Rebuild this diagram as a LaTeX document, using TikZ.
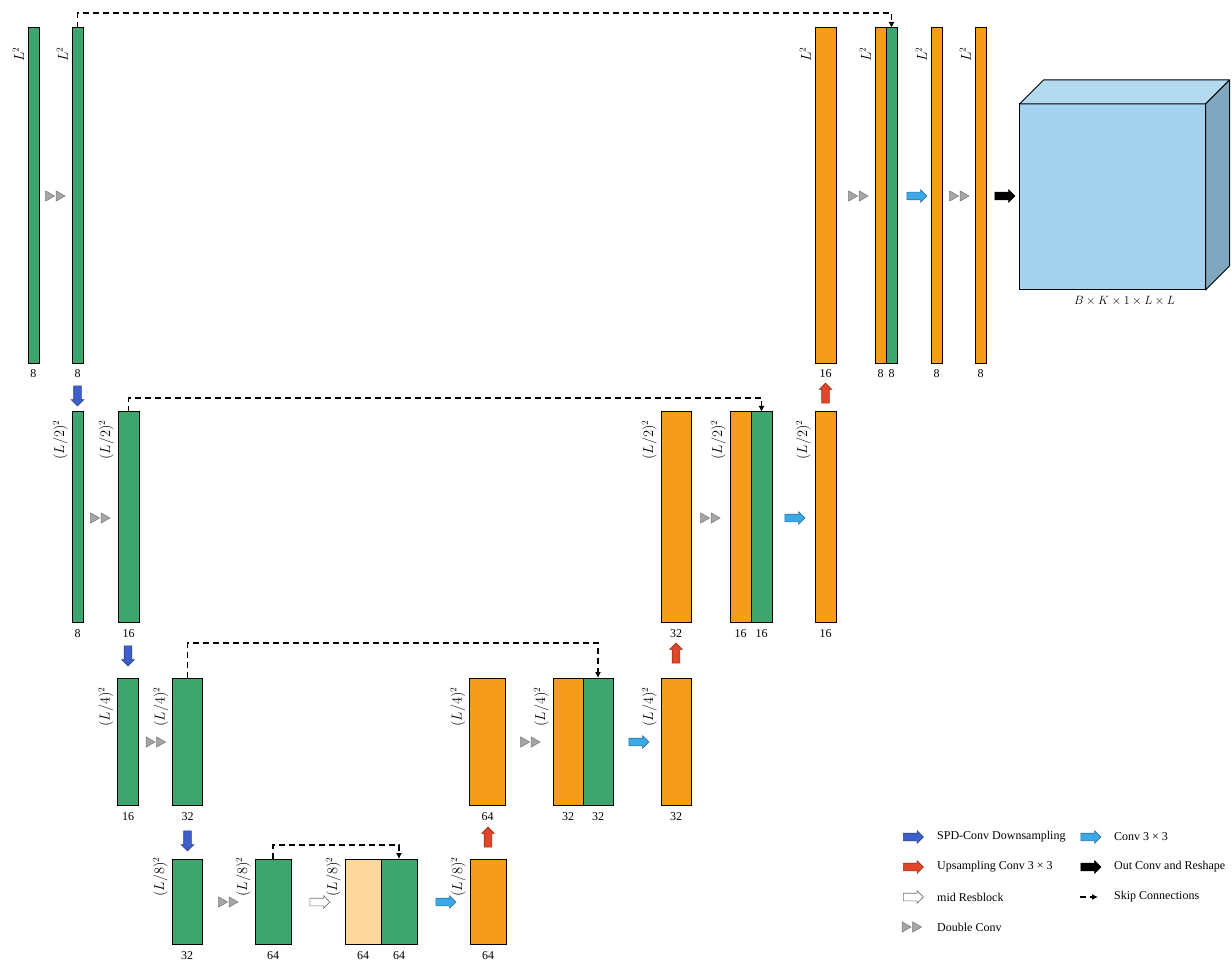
\documentclass[tikz,border=0pt]{standalone}
\usepackage{fontspec}
\setmainfont{Liberation Serif}
\usetikzlibrary{positioning,shapes.arrows,shapes.geometric,arrows.meta}

\definecolor{fgreen}{HTML}{3FA56F}
\definecolor{forange}{HTML}{F79B1C}
\definecolor{flight}{HTML}{FCD89D}
\definecolor{spdblue}{HTML}{3C5FCB}
\definecolor{upred}{HTML}{E1462A}
\definecolor{convblue}{HTML}{3DA8E6}
\definecolor{cubefront}{HTML}{A4D2EF}
\definecolor{cubetop}{HTML}{B4DAF0}
\definecolor{cubeside}{HTML}{7FA8C0}

\def\dconv#1#2#3{%
    \node[tri] (#1-a) at (#2-6.5,#3) {};
    \node[tri] (#1-b) at (#2+4,#3) {};}

\begin{document}
\begin{tikzpicture}[x=1pt,y=-1pt]
    \tikzstyle{fmap}=[draw=black, line width=1pt, inner sep=0pt, outer sep=0pt, minimum width=11pt]
    \tikzstyle{enc map}=[fmap, fill=fgreen]
    \tikzstyle{dec map}=[fmap, fill=forange]
    \tikzstyle{mid map}=[fmap, fill=flight]
    \tikzstyle{lvl1}=[minimum height=336pt]
    \tikzstyle{lvl2}=[minimum height=210pt]
    \tikzstyle{lvl3}=[minimum height=127pt]
    \tikzstyle{lvl4}=[minimum height=85pt]
    \tikzstyle{dim label}=[anchor=south east, rotate=90, inner sep=0pt, font=\fontsize{13.5}{15}\selectfont]
    \tikzstyle{ch label}=[yshift=\numoff, inner sep=0pt, font=\fontsize{12}{14}\selectfont]
    \tikzset{dims/.style={label={[xshift=-4pt, yshift=\dimoff, dim label]north west:#1}}}
    \tikzstyle{blk arrow}=[single arrow, single arrow head extend=2.5pt, minimum height=20pt, inner sep=3.5pt, line width=0.6pt]
    \tikzstyle{spd}=[fill=spdblue, draw=spdblue!70!black]
    \tikzstyle{ups}=[fill=upred, draw=upred!70!black]
    \tikzstyle{conv}=[fill=convblue, draw=convblue!70!black]
    \tikzstyle{outc}=[fill=black, draw=black]
    \tikzstyle{resb}=[fill=white, draw=black!55]
    \tikzstyle{tri}=[regular polygon, regular polygon sides=3, shape border rotate=-90, minimum size=12pt, inner sep=0pt, fill=black!35, draw=black!55, line width=0.5pt]
    \tikzstyle{skip}=[draw=black, line width=1.1pt, dash pattern=on 6pt off 4pt, -{Latex[length=6pt,width=6pt]}]
    \tikzstyle{legend text}=[anchor=west, inner sep=0pt, font=\fontsize{12}{14}\selectfont]

    \useasboundingbox (0,0) rectangle (1232,965);

    % Level 1 maps
    \def\dimoff{-19pt}\def\numoff{-5pt}
    \node[enc map, lvl1, dims={$L^2$}, label={[ch label]below:8}] (E1-1) at (33.5,196) {};
    \node[enc map, lvl1, dims={$L^2$}, label={[ch label]below:8}] (E1-2) at (77.5,196) {};
    \node[dec map, lvl1, minimum width=21pt, dims={$L^2$}, label={[ch label]below:16}] (D1-1) at (825.5,196) {};
    \node[dec map, lvl1, dims={$L^2$}, label={[ch label]below:8}] (D1-2) at (880.5,196) {};
    \node[enc map, lvl1, right=0pt of D1-2, label={[ch label]below:8}] (D1-3) {};
    \node[dec map, lvl1, dims={$L^2$}, label={[ch label]below:8}] (D1-4) at (936.5,196) {};
    \node[dec map, lvl1, dims={$L^2$}, label={[ch label]below:8}] (D1-5) at (980.5,196) {};

    % Level 2 maps
    \def\dimoff{-8pt}\def\numoff{-7pt}
    \node[enc map, lvl2, dims={$(L/2)^2$}, label={[ch label]below:8}] (E2-1) at (77.5,517) {};
    \node[enc map, lvl2, minimum width=21pt, dims={$(L/2)^2$}, label={[ch label]below:16}] (E2-2) at (128.5,517) {};
    \node[dec map, lvl2, minimum width=30pt, dims={$(L/2)^2$}, label={[ch label]below:32}] (D2-1) at (676,517) {};
    \node[dec map, lvl2, minimum width=21pt, dims={$(L/2)^2$}, label={[ch label]below:16}] (D2-2) at (740.5,517) {};
    \node[enc map, lvl2, minimum width=21pt, right=0pt of D2-2, label={[ch label]below:16}] (D2-3) {};
    \node[dec map, lvl2, minimum width=21pt, dims={$(L/2)^2$}, label={[ch label]below:16}] (D2-4) at (825.5,517) {};

    % Level 3 maps
    \def\dimoff{-9pt}
    \node[enc map, lvl3, minimum width=21pt, dims={$(L/4)^2$}, label={[ch label]below:16}] (E3-1) at (128,741.5) {};
    \node[enc map, lvl3, minimum width=30pt, dims={$(L/4)^2$}, label={[ch label]below:32}] (E3-2) at (187.5,741.5) {};
    \node[dec map, lvl3, minimum width=36pt, dims={$(L/4)^2$}, label={[ch label]below:64}] (D3-1) at (487.5,741.5) {};
    \node[dec map, lvl3, minimum width=30pt, dims={$(L/4)^2$}, label={[ch label]below:32}] (D3-2) at (568,741.5) {};
    \node[enc map, lvl3, minimum width=30pt, right=0pt of D3-2, label={[ch label]below:32}] (D3-3) {};
    \node[dec map, lvl3, minimum width=30pt, dims={$(L/4)^2$}, label={[ch label]below:32}] (D3-4) at (676,741.5) {};

    % Level 4 maps
    \def\dimoff{2pt}
    \node[enc map, lvl4, minimum width=30pt, dims={$(L/8)^2$}, label={[ch label]below:32}] (E4-1) at (187,901.5) {};
    \node[enc map, lvl4, minimum width=36pt, dims={$(L/8)^2$}, label={[ch label]below:64}] (E4-2) at (273,901.5) {};
    \node[mid map, lvl4, minimum width=36pt, dims={$(L/8)^2$}, label={[ch label]below:64}] (M-1) at (363,901.5) {};
    \node[enc map, lvl4, minimum width=36pt, right=0pt of M-1, label={[ch label]below:64}] (M-2) {};
    \node[dec map, lvl4, minimum width=36pt, dims={$(L/8)^2$}, label={[ch label]below:64}] (D4-1) at (488,901.5) {};

    % Output cube
    \node[draw, line width=1pt, fill=cubefront, minimum width=186pt, minimum height=186pt, outer sep=0pt] (cube) at (1112.5,197) {};
    \draw[line width=1pt, line join=round, fill=cubetop] (cube.north west) -- ++(24,-24) -- ++(186,0) -- (cube.north east) -- cycle;
    \draw[line width=1pt, line join=round, fill=cubeside] (cube.north east) -- ++(24,-24) -- ++(0,186) -- (cube.south east) -- cycle;
    \node[below=6pt of cube, xshift=12pt, inner sep=0pt, font=\fontsize{12.5}{14}\selectfont] (cube-l) {$B\times K\times 1\times L\times L$};

    % Operations between the maps
    \dconv{dc-1}{55}{196}
    \dconv{dc-2}{858}{196}
    \node[blk arrow, conv] (cv-1) at (915,196) {};
    \dconv{dc-3}{959}{196}
    \node[blk arrow, outc] (out) at (1003,196) {};
    \node[blk arrow, spd, shape border rotate=270] (dn-1) at (77.5,394) {};
    \node[blk arrow, ups, shape border rotate=90] (up-1) at (825.5,395) {};

    \dconv{dc-4}{100}{518}
    \dconv{dc-5}{710}{518}
    \node[blk arrow, conv] (cv-2) at (793,518) {};
    \node[blk arrow, spd, shape border rotate=270] (dn-2) at (128,654) {};
    \node[blk arrow, ups, shape border rotate=90] (up-2) at (676,655) {};

    \dconv{dc-6}{155.5}{742}
    \dconv{dc-7}{530}{742}
    \node[blk arrow, conv] (cv-3) at (637,742) {};
    \node[blk arrow, spd, shape border rotate=270] (dn-3) at (187.5,839) {};
    \node[blk arrow, ups, shape border rotate=90] (up-3) at (488,839) {};

    \dconv{dc-8}{228}{902}
    \node[blk arrow, resb] (mid) at (318,902) {};
    \node[blk arrow, conv] (cv-4) at (444,902) {};

    % Skip connections
    \draw[skip] (E1-2.north) -- ++(0,-15) -| (D1-3.north);
    \draw[skip] (E2-2.north) -- ++(0,-14) -| (D2-3.north);
    \draw[skip] (E3-2.north) -- ++(0,-35) -| (D3-3.north);
    \draw[skip] (E4-2.north) -- ++(0,-14) -| (M-2.north);

    % Legend
    \node[blk arrow, spd] (lg-1) at (911.5,837) {};
    \node[legend text] (lg-1-t) at (937,837) {SPD-Conv Downsampling};
    \node[blk arrow, ups] (lg-2) at (911.5,867) {};
    \node[legend text] (lg-2-t) at (937,867) {Upsampling Conv 3 × 3};
    \node[blk arrow, resb] (lg-3) at (911.5,897) {};
    \node[legend text] (lg-3-t) at (937,897) {mid Resblock};
    \dconv{lg-4}{911.5}{927}
    \node[legend text] (lg-4-t) at (937,927) {Double Conv};
    \node[blk arrow, conv] (lg-5) at (1089,837) {};
    \node[legend text] (lg-5-t) at (1114,837) {Conv 3 × 3};
    \node[blk arrow, outc] (lg-6) at (1089,867) {};
    \node[legend text] (lg-6-t) at (1114,867) {Out Conv and Reshape};
    \coordinate (lg-7-a) at (1080,897);
    \coordinate (lg-7-b) at (1098,897);
    \draw[skip] (lg-7-a) -- (lg-7-b);
    \node[legend text] (lg-7-t) at (1114,897) {Skip Connections};
\end{tikzpicture}
\end{document}
